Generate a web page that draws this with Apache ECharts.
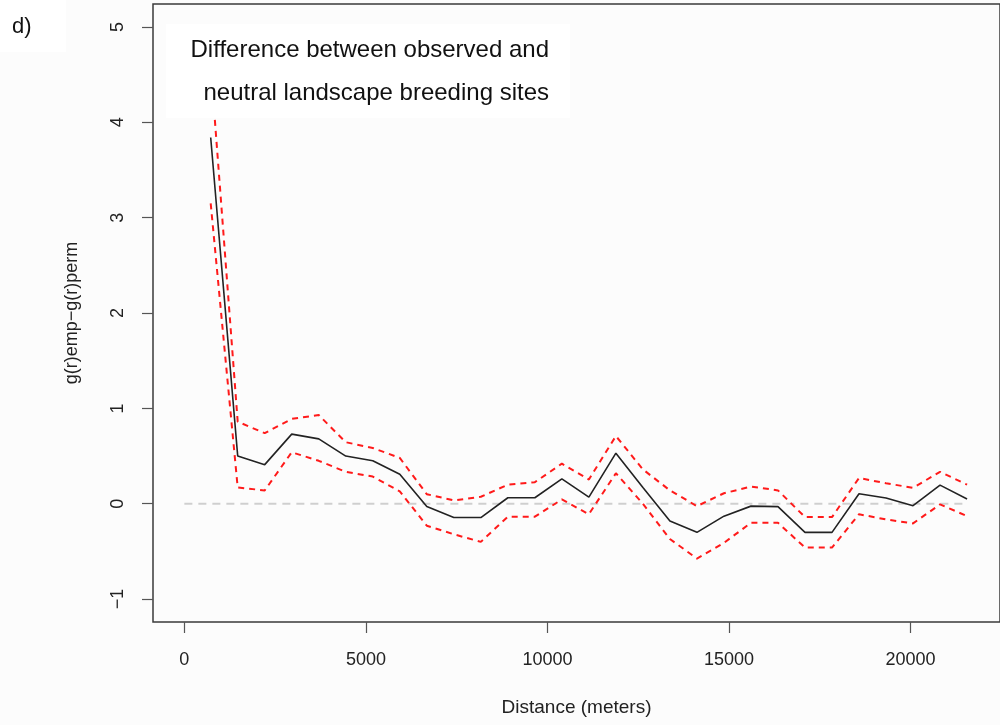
<!DOCTYPE html>
<html>
<head>
<meta charset="utf-8">
<script src="https://cdn.jsdelivr.net/npm/echarts@6/dist/echarts.min.js"></script>
<style>
  html, body { margin: 0; padding: 0; background: #fcfcfc; }
  #chart { width: 1000px; height: 725px; }
</style>
</head>
<body>
<div id="chart"></div>
<script>
// Distance classes (meters)
const distances = [725, 1469, 2213, 2957, 3701, 4445, 5189, 5933, 6677, 7421, 8165, 8909, 9653, 10397, 11141,
                   11885, 12629, 13373, 14117, 14861, 15605, 16349, 17093, 17837, 18581, 19325, 20069, 20813, 21557];
// g(r)emp - g(r)perm (observed difference)
const observed = [3.84, 0.50, 0.41, 0.73, 0.68, 0.50, 0.45, 0.31, -0.03, -0.145, -0.145, 0.063, 0.063, 0.26, 0.07,
                  0.53, 0.17, -0.18, -0.30, -0.13, -0.025, -0.03, -0.30, -0.30, 0.105, 0.06, -0.02, 0.195, 0.05];
// upper confidence envelope
const upper = [4.6, 0.86, 0.74, 0.89, 0.93, 0.645, 0.585, 0.48, 0.10, 0.035, 0.073, 0.20, 0.226, 0.42, 0.254,
               0.71, 0.36, 0.14, -0.025, 0.11, 0.18, 0.14, -0.14, -0.14, 0.27, 0.215, 0.167, 0.335, 0.20];
// lower confidence envelope
const lower = [3.15, 0.17, 0.14, 0.54, 0.45, 0.335, 0.285, 0.13, -0.23, -0.32, -0.40, -0.136, -0.136, 0.045, -0.11,
               0.32, 0.0, -0.37, -0.575, -0.41, -0.20, -0.20, -0.46, -0.46, -0.11, -0.165, -0.206, -0.007, -0.13];
// zero reference line
const refX = [0, 21557];
const refY = [0, 0];
// tick labels
const xTicks = [0, 5000, 10000, 15000, 20000];
const yTicks = [-1, 0, 1, 2, 3, 4, 5];

const titleLines = ['Difference between observed and', 'neutral landscape breeding sites'];
const panelLabel = 'd)';

const FONT = "'Liberation Sans', Arial, Helvetica, sans-serif";

function pairs(xs, ys) { return xs.map((x, i) => [x, ys[i]]); }
function fmt(v) { return String(v).replace('-', '\u2212'); }

const chart = echarts.init(document.getElementById('chart'), null, { renderer: 'canvas' });
chart.setOption({
  animation: false,
  backgroundColor: '#fcfcfc',
  textStyle: { fontFamily: FONT },
  grid: {
    left: 153, top: 4, width: 859, height: 618,
    show: true, borderColor: '#3a3a3a', borderWidth: 1.5, backgroundColor: 'transparent'
  },
  xAxis: {
    type: 'value', min: -864, max: 22464,
    axisLine: { show: false, onZero: false },
    splitLine: { show: false },
    axisTick: { show: true, inside: false, customValues: xTicks, length: 11, lineStyle: { color: '#555', width: 1.2 } },
    axisLabel: { customValues: xTicks, formatter: fmt, fontSize: 18, color: '#222', margin: 29, fontFamily: FONT },
    name: 'Distance (meters)', nameLocation: 'middle', nameGap: 76,
    nameTextStyle: { fontSize: 19, color: '#222', fontFamily: FONT }
  },
  yAxis: {
    type: 'value', min: -1.24, max: 5.24,
    axisLine: { show: false, onZero: false },
    splitLine: { show: false },
    axisTick: { show: true, inside: false, customValues: yTicks, length: 11, lineStyle: { color: '#555', width: 1.2 } },
    axisLabel: { customValues: yTicks, formatter: fmt, fontSize: 18, color: '#222', margin: 26, rotate: 90, fontFamily: FONT },
    name: 'g(r)emp\u2212g(r)perm', nameLocation: 'middle', nameGap: 72,
    nameTextStyle: { fontSize: 18, color: '#222', fontFamily: FONT }
  },
  series: [
    {
      type: 'line', data: pairs(refX, refY), showSymbol: false, silent: true, z: 1,
      lineStyle: { color: '#cfcfcf', width: 2, type: [8, 6] }
    },
    {
      type: 'line', data: pairs(distances, observed), showSymbol: false, silent: true, z: 2,
      lineStyle: { color: '#222', width: 1.6 }
    },
    {
      type: 'line', data: pairs(distances, upper), showSymbol: false, silent: true, z: 3,
      lineStyle: { color: '#ff1a1a', width: 2, type: [6, 5] }
    },
    {
      type: 'line', data: pairs(distances, lower), showSymbol: false, silent: true, z: 3,
      lineStyle: { color: '#ff1a1a', width: 2, type: [6, 5] }
    }
  ],
  graphic: [
    { type: 'rect', z: 100, shape: { x: 0, y: 0, width: 66, height: 52 }, style: { fill: '#ffffff' } },
    { type: 'text', z: 101, x: 12, y: 27, style: { text: panelLabel, font: '22px ' + FONT, fill: '#111', textVerticalAlign: 'middle' } },
    { type: 'rect', z: 100, shape: { x: 166, y: 24, width: 404, height: 94 }, style: { fill: '#ffffff' } },
    { type: 'text', z: 101, x: 549, y: 50, style: { text: titleLines[0], font: '24px ' + FONT, fill: '#111', textAlign: 'right', textVerticalAlign: 'middle' } },
    { type: 'text', z: 101, x: 549, y: 93, style: { text: titleLines[1], font: '24px ' + FONT, fill: '#111', textAlign: 'right', textVerticalAlign: 'middle' } }
  ]
});
</script>
</body>
</html>
